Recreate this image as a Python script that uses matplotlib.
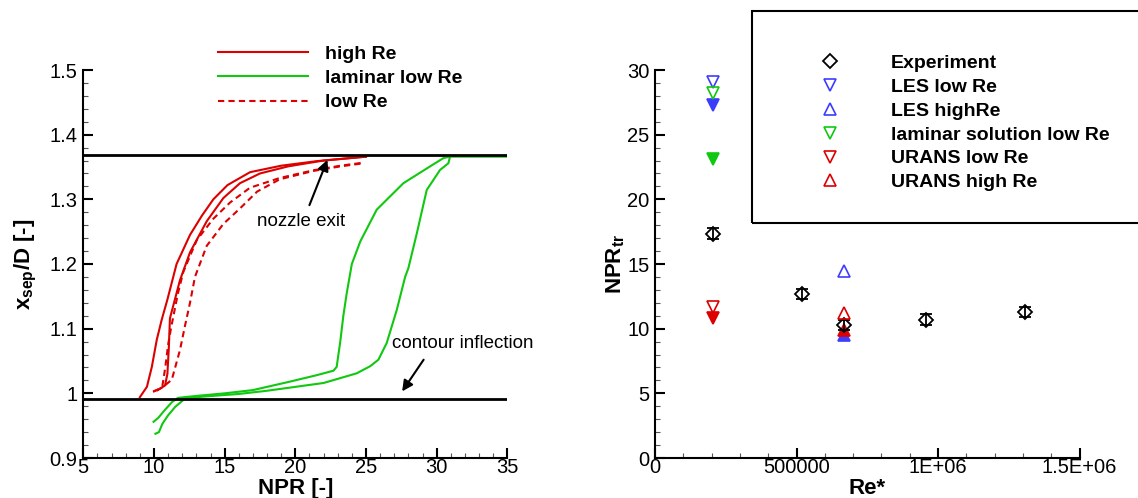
import matplotlib
matplotlib.use('Agg')
import matplotlib.pyplot as plt
from matplotlib.patches import Rectangle
from matplotlib.ticker import MultipleLocator, FixedLocator, FixedFormatter, FormatStrFormatter

plt.rcParams['font.family'] = ['Liberation Sans', 'DejaVu Sans']
plt.rcParams['mathtext.fontset'] = 'custom'
plt.rcParams['mathtext.rm'] = 'Liberation Sans'
plt.rcParams['mathtext.bf'] = 'Liberation Sans:bold'
plt.rcParams['mathtext.it'] = 'Liberation Sans:italic'

RED = '#dc0000'
GREEN = '#10c810'
BLUE = '#3c3cff'

# ---------------- left panel data: separation position vs NPR ----------------
nozzle_exit = 1.368
contour_inflection = 0.992

high_re_a_npr = [9.0, 9.5, 9.85, 10.2, 10.55, 10.95, 11.6, 12.55, 13.4, 14.2, 15.2, 16.8, 19.0, 21.5, 23.5, 25.0]
high_re_a_x = [0.994, 1.010, 1.041, 1.083, 1.114, 1.145, 1.200, 1.245, 1.275, 1.300, 1.322, 1.342, 1.352, 1.359, 1.363, 1.366]

high_re_b_npr = [10.0, 10.4, 10.78, 10.95, 11.05, 11.13, 11.84, 12.55, 13.73, 14.91, 16.09, 17.5, 19.5, 22.0, 25.0]
high_re_b_x = [1.003, 1.007, 1.012, 1.030, 1.070, 1.116, 1.175, 1.218, 1.266, 1.302, 1.325, 1.340, 1.351, 1.360, 1.366]

low_re_a_npr = [9.95, 10.3, 10.6, 10.8, 11.0, 11.2, 11.37, 11.7, 12.08, 13.03, 14.2, 15.38, 16.8, 18.9, 21.3, 23.2, 24.9]
low_re_a_x = [1.003, 1.006, 1.012, 1.040, 1.075, 1.100, 1.119, 1.155, 1.188, 1.237, 1.270, 1.295, 1.318, 1.333, 1.345, 1.352, 1.357]

low_re_b_npr = [10.2, 10.64, 11.26, 11.5, 11.84, 12.2, 12.55, 12.9, 13.73, 14.91, 16.09, 17.3, 18.9, 21.3, 23.2, 24.9]
low_re_b_x = [1.004, 1.010, 1.021, 1.040, 1.067, 1.105, 1.140, 1.180, 1.228, 1.262, 1.286, 1.312, 1.331, 1.344, 1.351, 1.356]

lam_a_npr = [9.97, 10.3, 10.8, 11.3, 11.7, 13.0, 15.0, 17.0, 19.6, 21.5, 22.7, 22.93, 23.05, 23.17, 23.4, 23.64,
             24.0, 24.6, 25.76, 27.65, 29.54, 30.5, 31.0, 35.0]
lam_a_x = [0.956, 0.962, 0.975, 0.987, 0.993, 0.996, 1.000, 1.005, 1.018, 1.028, 1.035, 1.041, 1.060, 1.078, 1.120, 1.155,
           1.200, 1.235, 1.284, 1.325, 1.351, 1.364, 1.366, 1.366]

lam_b_npr = [10.1, 10.35, 10.6, 11.0, 11.5, 12.2, 13.5, 16.0, 18.0, 20.0, 22.0, 24.35, 25.3, 25.88, 26.47, 27.18,
             27.77, 28.0, 28.6, 29.3, 30.24, 30.83, 30.95]
lam_b_x = [0.9375, 0.940, 0.953, 0.966, 0.979, 0.992, 0.995, 0.999, 1.004, 1.010, 1.016, 1.031, 1.042, 1.052, 1.078, 1.129,
           1.180, 1.1935, 1.2476, 1.3145, 1.3454, 1.3558, 1.366]

# ---------------- right panel data: NPR_tr vs Re* ----------------
exp_re = [204000, 519000, 667000, 956000, 1307000]
exp_npr = [17.35, 12.68, 10.29, 10.70, 11.30]
exp_err = [0.4, 0.4, 0.4, 0.4, 0.4]

les_low_re = [204000]
les_low_open = [29.09]
les_low_filled = [27.33]

les_high_re = [667000]
les_high_open = [14.45]
les_high_filled = [9.5]

lam_low_re = [204000]
lam_low_open = [28.19]
lam_low_filled = [23.09]

urans_low_re = [204000]
urans_low_open = [11.70]
urans_low_filled = [10.80]

urans_high_re = [667000]
urans_high_open = [11.19]
urans_high_filled = [9.90]

re_ticks = [0, 500000, 1000000, 1500000]
re_tick_labels = ['0', '500000', '1E+06', '1.5E+06']

# ---------------- figure ----------------
W, H = 1138, 498
fig = plt.figure(figsize=(W / 100, H / 100), dpi=100)


def frac(x0, y0, x1, y1):
    return [x0 / W, 1 - y1 / H, (x1 - x0) / W, (y1 - y0) / H]


ax1 = fig.add_axes(frac(83.3, 70, 507.3, 458))
ax2 = fig.add_axes(frac(655, 70, 1079.5, 458))


def style(ax):
    for s in ['top', 'right']:
        ax.spines[s].set_visible(False)
    for s in ['left', 'bottom']:
        ax.spines[s].set_linewidth(1.5)
    ax.tick_params(which='major', direction='in', length=7, width=1.5, labelsize=14.5, color='k')
    ax.tick_params(which='minor', direction='in', length=3.5, width=0.8, color='#555555')
    ax.tick_params(axis='x', which='major', pad=0)
    ax.tick_params(axis='y', which='major', pad=4)


style(ax1)
style(ax2)

# left panel
ax1.axhline(nozzle_exit, color='k', lw=2, zorder=3)
ax1.axhline(contour_inflection, color='k', lw=2, zorder=3)
dash = (0, (3, 2))
l_high, = ax1.plot(high_re_a_npr, high_re_a_x, color=RED, lw=1.5, label='high Re')
ax1.plot(high_re_b_npr, high_re_b_x, color=RED, lw=1.5)
l_low, = ax1.plot(low_re_a_npr, low_re_a_x, color=RED, lw=1.5, ls=dash, label='low Re')
ax1.plot(low_re_b_npr, low_re_b_x, color=RED, lw=1.5, ls=dash)
l_lam, = ax1.plot(lam_a_npr, lam_a_x, color=GREEN, lw=1.5, label='laminar low Re')
ax1.plot(lam_b_npr, lam_b_x, color=GREEN, lw=1.5)

ax1.set_xlim(5, 35)
ax1.set_ylim(0.9, 1.5)
ax1.xaxis.set_major_locator(MultipleLocator(5))
ax1.xaxis.set_minor_locator(MultipleLocator(1))
ax1.yaxis.set_major_locator(MultipleLocator(0.1))
ax1.yaxis.set_minor_locator(MultipleLocator(0.02))
ax1.yaxis.set_major_formatter(FormatStrFormatter('%g'))
ax1.set_xlabel('NPR [-]', fontsize=16, fontweight='bold', labelpad=1)
ax1.set_ylabel(r'x$_{\mathbf{sep}}$/D [-]', fontsize=16, fontweight='bold', labelpad=8)

ax1.text(20.39, 1.2655, 'nozzle exit', fontsize=13.5, ha='center', va='center')
ax1.annotate('', xy=(22.27, 1.361), xytext=(21.0, 1.291),
             arrowprops=dict(arrowstyle='-|>', color='k', lw=1.5, mutation_scale=16, shrinkA=0, shrinkB=0))
ax1.text(26.83, 1.0776, 'contour inflection', fontsize=13.5, ha='left', va='center')
ax1.annotate('', xy=(27.56, 1.003), xytext=(29.08, 1.052),
             arrowprops=dict(arrowstyle='-|>', color='k', lw=1.5, mutation_scale=16, shrinkA=0, shrinkB=0))

fig.legend(handles=[l_high, l_lam, l_low], loc='upper left',
           bbox_to_anchor=(218.3 / W, 1 - 45.0 / H), bbox_transform=fig.transFigure,
           frameon=False, borderpad=0, borderaxespad=0, handlelength=4.63, handletextpad=0.87,
           labelspacing=0.35, prop={'weight': 'bold', 'size': 14})

# right panel
ms_t = 8.5
ax2.plot(les_high_re, les_high_filled, ls='none', marker='^', ms=ms_t, color=BLUE, mfc=BLUE, mew=1.2)
ax2.plot(urans_high_re, urans_high_filled, ls='none', marker='^', ms=ms_t, color=RED, mfc=RED, mew=1.2)
ax2.plot(les_low_re, les_low_filled, ls='none', marker='v', ms=ms_t, color=BLUE, mfc=BLUE, mew=1.2)
ax2.plot(lam_low_re, lam_low_filled, ls='none', marker='v', ms=ms_t, color=GREEN, mfc=GREEN, mew=1.2)
ax2.plot(urans_low_re, urans_low_filled, ls='none', marker='v', ms=ms_t, color=RED, mfc=RED, mew=1.2)

ax2.errorbar(exp_re, exp_npr, yerr=exp_err, fmt='none', ecolor='k', elinewidth=1.3, capsize=4.5, capthick=1.3)
h_exp, = ax2.plot(exp_re, exp_npr, ls='none', marker='D', ms=7, color='k', mfc='none', mew=1.3, label='Experiment')
h_les_low, = ax2.plot(les_low_re, les_low_open, ls='none', marker='v', ms=ms_t, color=BLUE, mfc='none', mew=1.2,
                      label='LES low Re')
h_les_high, = ax2.plot(les_high_re, les_high_open, ls='none', marker='^', ms=ms_t, color=BLUE, mfc='none', mew=1.2,
                       label='LES highRe')
h_lam, = ax2.plot(lam_low_re, lam_low_open, ls='none', marker='v', ms=ms_t, color=GREEN, mfc='none', mew=1.2,
                  label='laminar solution low Re')
h_ur_low, = ax2.plot(urans_low_re, urans_low_open, ls='none', marker='v', ms=ms_t, color=RED, mfc='none', mew=1.2,
                     label='URANS low Re')
h_ur_high, = ax2.plot(urans_high_re, urans_high_open, ls='none', marker='^', ms=ms_t, color=RED, mfc='none', mew=1.2,
                      label='URANS high Re')

ax2.set_xlim(0, 1500000)
ax2.set_ylim(0, 30)
ax2.xaxis.set_major_locator(FixedLocator(re_ticks))
ax2.xaxis.set_major_formatter(FixedFormatter(re_tick_labels))
ax2.xaxis.set_minor_locator(MultipleLocator(100000))
ax2.yaxis.set_major_locator(MultipleLocator(5))
ax2.yaxis.set_minor_locator(MultipleLocator(1))
ax2.set_xlabel('Re*', fontsize=16, fontweight='bold', labelpad=1)
ax2.set_ylabel(r'NPR$_{\mathbf{tr}}$', fontsize=16, fontweight='bold', labelpad=0)

fig.patches.append(Rectangle((751.5 / W, 1 - 222.7 / H), (1150 - 751.5) / W, (222.7 - 10.7) / H,
                             transform=fig.transFigure, fill=False, edgecolor='k', lw=1.5, clip_on=False))
fig.legend(handles=[h_exp, h_les_low, h_les_high, h_lam, h_ur_low, h_ur_high], loc='upper left',
           bbox_to_anchor=(810.6 / W, 1 - 54.5 / H), bbox_transform=fig.transFigure,
           frameon=False, borderpad=0, borderaxespad=0, handlelength=2, handletextpad=2.14,
           labelspacing=0.32, numpoints=1, prop={'weight': 'bold', 'size': 14})

fig.savefig('out.png', dpi=100)
